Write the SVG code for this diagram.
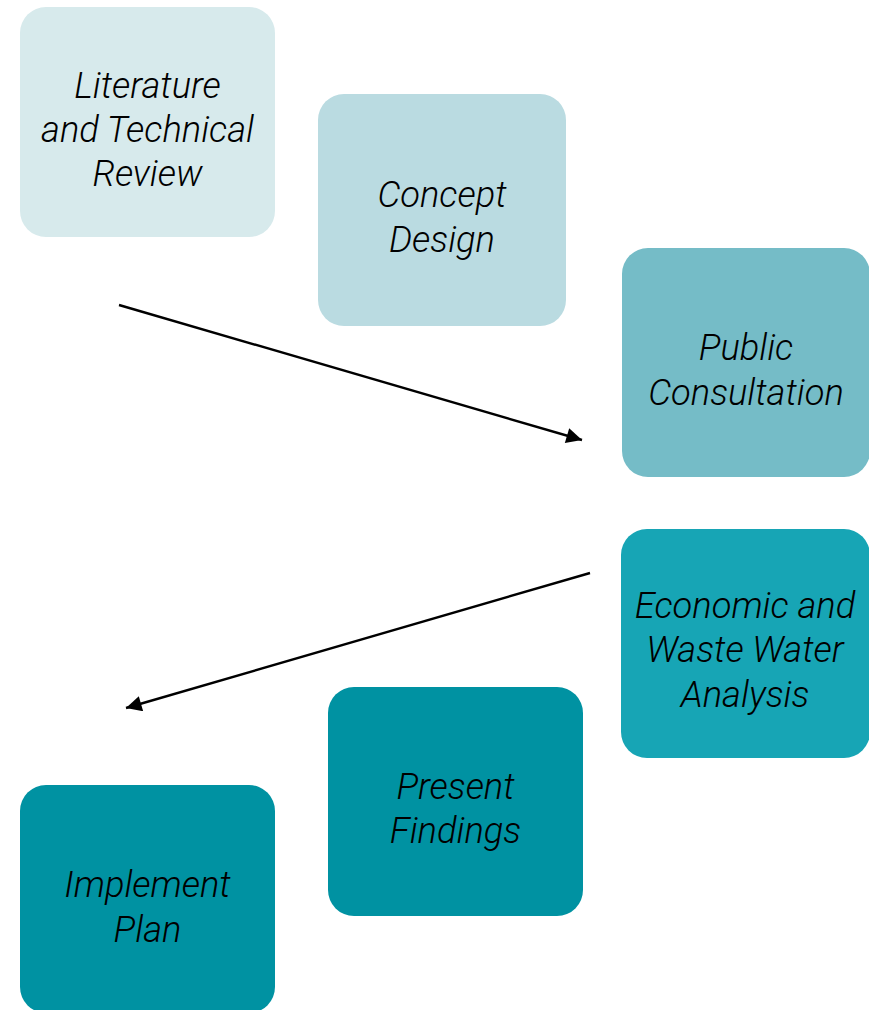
<svg xmlns="http://www.w3.org/2000/svg" width="869" height="1010" viewBox="0 0 869 1010">
<style>
.lbl{font-family:Roboto,"Liberation Sans",sans-serif;font-style:italic;font-weight:300;font-size:36.3px;fill:#000;text-anchor:middle}
.conn{stroke:#000;stroke-width:2.4;fill:none;marker-end:url(#ah)}
</style>
<defs>
<marker id="ah" viewBox="0 0 10 10" refX="10" refY="5" markerWidth="8" markerHeight="6.5" markerUnits="strokeWidth" orient="auto">
<path d="M0,0 L10,5 L0,10 z" fill="#000"/>
</marker>
</defs>
<rect width="869" height="1010" fill="#fff"/>
<g id="n1">
<rect x="20" y="7" width="255" height="230" rx="26" fill="#d7eaec"/>
<text class="lbl" x="147.5" y="98">Literature</text>
<text class="lbl" x="147.5" y="142">and Technical</text>
<text class="lbl" x="147.5" y="186">Review</text>
</g>
<g id="n2">
<rect x="318" y="94" width="248" height="232" rx="26" fill="#badbe1"/>
<text class="lbl" x="442" y="207">Concept</text>
<text class="lbl" x="442" y="252">Design</text>
</g>
<g id="n3">
<rect x="622" y="248" width="248" height="229" rx="26" fill="#75bcc7"/>
<text class="lbl" x="746" y="360">Public</text>
<text class="lbl" x="746" y="405">Consultation</text>
</g>
<g id="n4">
<rect x="621" y="529" width="249" height="229" rx="26" fill="#17a5b5"/>
<text class="lbl" x="745" y="618">Economic and</text>
<text class="lbl" x="745" y="662">Waste Water</text>
<text class="lbl" x="745" y="707">Analysis</text>
</g>
<g id="n5">
<rect x="328" y="687" width="255" height="229" rx="26" fill="#0092a2"/>
<text class="lbl" x="455.5" y="799">Present</text>
<text class="lbl" x="455.5" y="843">Findings</text>
</g>
<g id="n6">
<rect x="20" y="785" width="255" height="228" rx="26" fill="#0092a2"/>
<text class="lbl" x="147.5" y="897">Implement</text>
<text class="lbl" x="147.5" y="942">Plan</text>
</g>
<g id="connectors">
<line class="conn" x1="119" y1="305" x2="582" y2="440"/>
<line class="conn" x1="590" y1="573" x2="126" y2="708"/>
</g>
</svg>
